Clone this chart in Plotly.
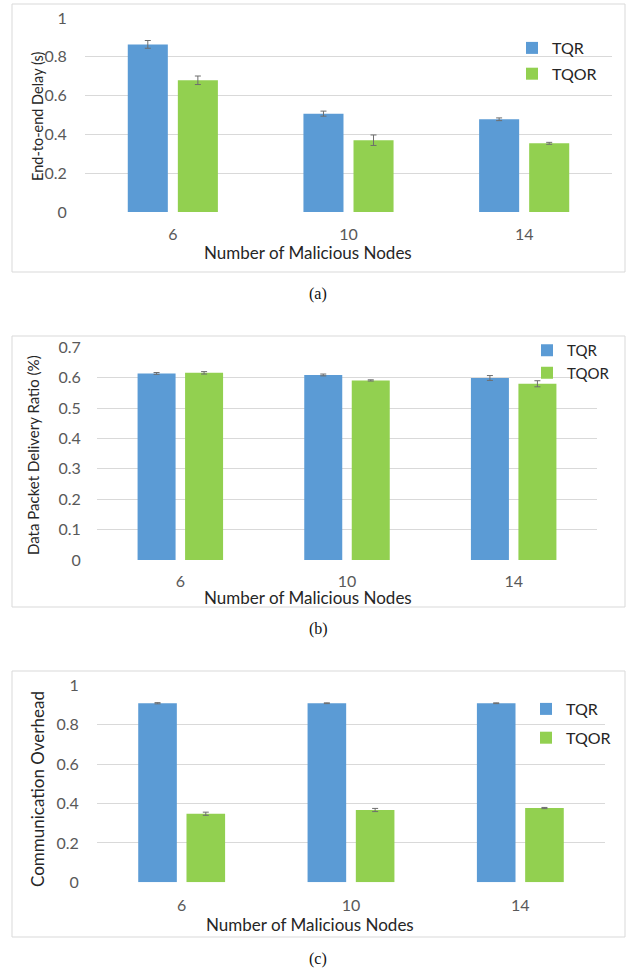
import plotly.graph_objects as go

W, H = 629, 972

categories = ["6", "10", "14"]
series_names = ["TQR", "TQOR"]
colors = {"TQR": "#5B9BD5", "TQOR": "#92D050"}

# (a) End-to-end delay
delay_tqr = [0.864, 0.507, 0.478]
delay_tqr_err = [0.020, 0.013, 0.007]
delay_tqor = [0.679, 0.370, 0.354]
delay_tqor_err = [0.022, 0.027, 0.005]

# (b) Data packet delivery ratio
pdr_tqr = [0.614, 0.609, 0.599]
pdr_tqr_err = [0.003, 0.003, 0.008]
pdr_tqor = [0.616, 0.591, 0.580]
pdr_tqor_err = [0.004, 0.002, 0.010]

# (c) Communication overhead
ovh_tqr = [0.909, 0.909, 0.909]
ovh_tqr_err = [0.003, 0.002, 0.002]
ovh_tqor = [0.348, 0.367, 0.377]
ovh_tqor_err = [0.008, 0.008, 0.003]

ytick_a = [0, 0.2, 0.4, 0.6, 0.8, 1]
ytick_b = [0, 0.1, 0.2, 0.3, 0.4, 0.5, 0.6, 0.7]
ytick_c = [0, 0.2, 0.4, 0.6, 0.8, 1]

FONT = "Lato"
TXT = "#595959"
TITLE = "#262626"
GRID = "#D9D9D9"

def px_x(p):
    return p / W

def px_y(p):
    return 1 - p / H

panels = [
    dict(ax="", vals=(delay_tqr, delay_tqor), errs=(delay_tqr_err, delay_tqor_err),
         xd=(85, 612), yd=(18, 212), rng=[0, 1], ticks=ytick_a, ylen=14, xlen=8,
         leg="legend", legpos=(512, 31), leggap=2, legfont=16,
         frame=(12, 4, 625, 272), ytitle="End-to-end Delay (s)", ytsize=14.5, ytpos=(37, 116),
         xtpos=(308, 252), cap="(a)", cappos=(318, 294)),
    dict(ax="2", vals=(pdr_tqr, pdr_tqor), errs=(pdr_tqr_err, pdr_tqor_err),
         xd=(97, 597), yd=(347.3, 560), rng=[0, 0.7], ticks=ytick_b, ylen=12, xlen=7,
         leg="legend2", legpos=(527, 334), leggap=0, legfont=15,
         frame=(12, 336, 625, 607), ytitle="Data Packet Delivery Ratio (%)", ytsize=15, ytpos=(33, 455),
         xtpos=(308, 597), cap="(b)", cappos=(318, 629)),
    dict(ax="3", vals=(ovh_tqr, ovh_tqor), errs=(ovh_tqr_err, ovh_tqor_err),
         xd=(97, 605), yd=(685.3, 882.3), rng=[0, 1], ticks=ytick_c, ylen=14, xlen=8,
         leg="legend3", legpos=(526, 692), leggap=5, legfont=16,
         frame=(12, 671, 625, 937), ytitle="Communication Overhead", ytsize=17, ytpos=(37, 789),
         xtpos=(310, 924), cap="(c)", cappos=(318, 959)),
]

fig = go.Figure()
shapes = []
annotations = []
layout = {}

for p in panels:
    a = p["ax"]
    for name, v, e in zip(series_names, p["vals"], p["errs"]):
        fig.add_trace(go.Bar(
            x=categories, y=v, name=name,
            marker=dict(color=colors[name], line=dict(width=0)),
            error_y=dict(type="data", array=e, visible=True, color="#6E6E6E",
                         thickness=1, width=3),
            xaxis="x" + a, yaxis="y" + a,
            legend=p["leg"], legendgroup=name + a,
        ))
    layout["xaxis" + a] = dict(
        domain=[px_x(p["xd"][0]), px_x(p["xd"][1])], anchor="y" + a,
        type="category", showgrid=False, showline=False, zeroline=False,
        ticks="outside", ticklen=p["xlen"], tickcolor="rgba(0,0,0,0)", automargin=False,
        tickfont=dict(family=FONT, size=16, color=TXT), fixedrange=True,
    )
    layout["yaxis" + a] = dict(
        domain=[px_y(p["yd"][1]), px_y(p["yd"][0])], anchor="x" + a,
        range=p["rng"], tickvals=p["ticks"], ticktext=[f"{t:g}" for t in p["ticks"]],
        showgrid=True, gridcolor=GRID, gridwidth=1, zeroline=False, showline=False,
        ticks="outside", ticklen=p["ylen"], tickcolor="rgba(0,0,0,0)", automargin=False,
        tickfont=dict(family=FONT, size=16, color=TXT), fixedrange=True,
    )
    layout[p["leg"]] = dict(
        x=px_x(p["legpos"][0]), y=px_y(p["legpos"][1]), xanchor="left", yanchor="top",
        xref="paper", yref="paper", bgcolor="rgba(0,0,0,0)",
        font=dict(family=FONT, size=p["legfont"], color=TITLE), tracegroupgap=p["leggap"],
        itemwidth=30,
    )
    fx0, fy0, fx1, fy1 = p["frame"]
    shapes.append(dict(type="rect", xref="paper", yref="paper",
                       x0=px_x(fx0), x1=px_x(fx1), y0=px_y(fy1), y1=px_y(fy0),
                       line=dict(color=GRID, width=1), fillcolor="rgba(0,0,0,0)"))
    annotations.append(dict(text=p["ytitle"], xref="paper", yref="paper",
                            x=px_x(p["ytpos"][0]), y=px_y(p["ytpos"][1]), textangle=-90,
                            showarrow=False, xanchor="center", yanchor="middle",
                            font=dict(family=FONT, size=p["ytsize"], color=TITLE)))
    annotations.append(dict(text="Number of Malicious Nodes", xref="paper", yref="paper",
                            x=px_x(p["xtpos"][0]), y=px_y(p["xtpos"][1]),
                            showarrow=False, xanchor="center", yanchor="middle",
                            font=dict(family=FONT, size=17, color=TITLE)))
    annotations.append(dict(text=p["cap"], xref="paper", yref="paper",
                            x=px_x(p["cappos"][0]), y=px_y(p["cappos"][1]),
                            showarrow=False, xanchor="center", yanchor="middle",
                            font=dict(family="Liberation Serif", size=16, color="#111111")))

fig.update_layout(
    width=W, height=H, margin=dict(l=0, r=0, t=0, b=0, pad=0, autoexpand=False),
    paper_bgcolor="white", plot_bgcolor="white",
    barmode="group", bargap=0.43, bargroupgap=0.2,
    showlegend=True, shapes=shapes, annotations=annotations,
    **layout,
)

fig.write_html(
    "out.html",
    config={"displayModeBar": False},
    post_script=(
        "document.body.style.margin='0';"
        "document.documentElement.style.overflow='hidden';"
        "document.body.style.overflow='hidden';"
    ),
)
